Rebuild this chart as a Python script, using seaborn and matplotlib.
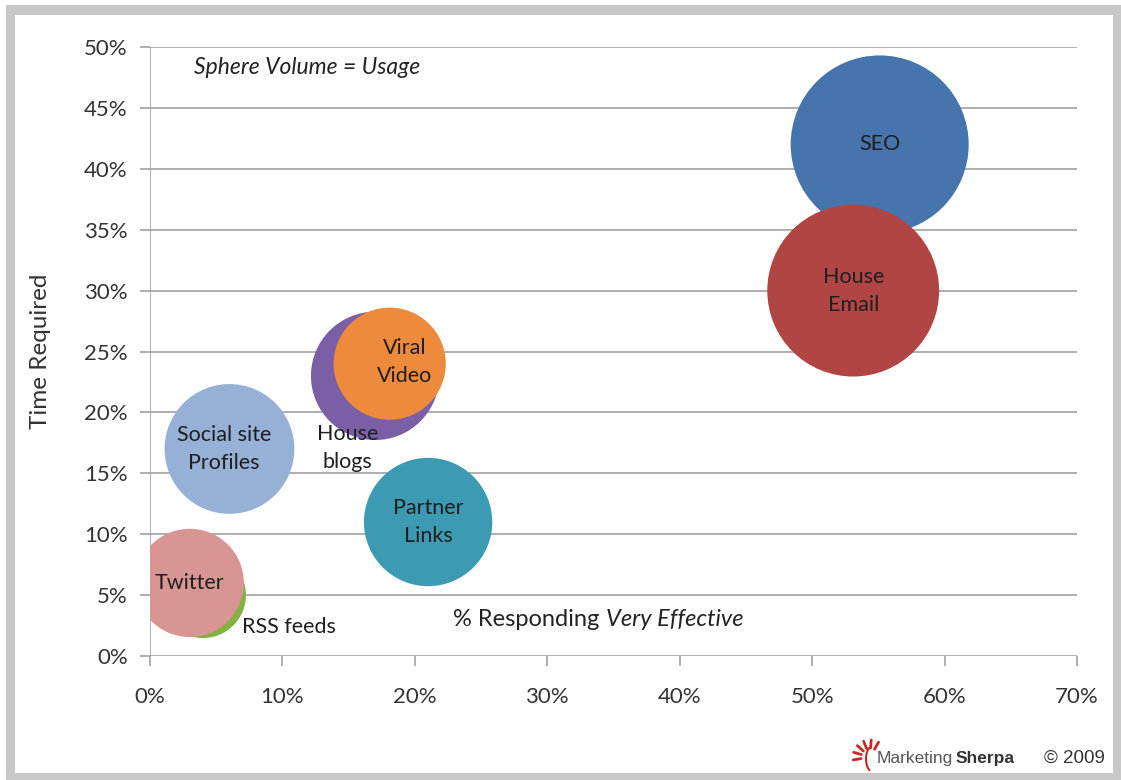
import matplotlib
matplotlib.use("Agg")
import matplotlib.pyplot as plt
import matplotlib.patches as mpatches
import matplotlib.lines as mlines
import seaborn as sns
import pandas as pd
import numpy as np

# ---- data ----
tactics = ["SEO", "House Email", "House blogs", "Viral Video",
           "Social site Profiles", "Partner Links", "RSS feeds", "Twitter"]
labels = ["SEO", "House\nEmail", "House\nblogs", "Viral\nVideo",
          "Social site\nProfiles", "Partner\nLinks", "RSS feeds", "Twitter"]
very_effective = [55.1, 53.1, 17.0, 18.1, 6.0, 21.0, 4.0, 3.0]   # % responding very effective
time_required = [42.0, 30.0, 23.0, 24.0, 17.0, 11.0, 5.0, 6.0]   # % time required
usage = [80, 72, 30, 20, 31, 30, 9, 18]                            # sphere volume = usage
colors = ["#4675ad", "#b04543", "#7a5ea6", "#ed8a3c",
          "#96b0d6", "#3c9bb2", "#83b241", "#d89593"]
x_ticks = [0, 10, 20, 30, 40, 50, 60, 70]
y_ticks = [0, 5, 10, 15, 20, 25, 30, 35, 40, 45, 50]

df = pd.DataFrame({"tactic": tactics, "label": labels, "x": very_effective,
                   "y": time_required, "usage": usage, "color": colors})

W, H, DPI = 1121, 780, 100
sns.set_theme(style="white")
plt.rcParams["font.family"] = ["Lato", "DejaVu Sans"]

fig = plt.figure(figsize=(W / DPI, H / DPI), dpi=DPI)
fig.patch.set_facecolor("white")

# outer grey frame
frame = mpatches.Rectangle((6 / W, 0), (W - 6) / W, (H - 5) / H, transform=fig.transFigure,
                           facecolor="#c8c8c8", edgecolor="none", zorder=-3)
inner = mpatches.Rectangle((15 / W, 7 / H), (1113 - 15) / W, (765 - 7) / H,
                           transform=fig.transFigure, facecolor="white",
                           edgecolor="none", zorder=-2)
fig.patches.extend([frame, inner])

ax = fig.add_axes([150 / W, 1 - 656 / H, (1077 - 150) / W, (656 - 47) / H])
ax.set_facecolor("none")
ax.patch.set_alpha(0)
ax.set_xlim(0, 70)
ax.set_ylim(0, 50)

# bubble radii: volume ∝ usage -> radius ∝ usage^(1/3)
k_px = 89.0 / (80 ** (1 / 3))
radius_px = k_px * np.cbrt(df["usage"].to_numpy(dtype=float))
area_pt2 = (2 * radius_px * 72 / DPI) ** 2

for i, row in df.iterrows():
    sns.scatterplot(x=[row["x"]], y=[row["y"]], s=area_pt2[i], color=row["color"],
                    edgecolor="none", linewidth=0, alpha=1.0, ax=ax,
                    zorder=3 + i, legend=False)
    coll = ax.collections[-1]
    coll.set_clip_on(True)
    coll.set_clip_path(ax.patch)

# grid
for yt in y_ticks:
    ax.axhline(yt, color="#999999", lw=1.1, zorder=1)
ax.axvline(0, color="#999999", lw=1.1, zorder=1)

for s in ax.spines.values():
    s.set_visible(False)

ax.set_xticks(x_ticks)
ax.set_xticklabels([f"{v}%" for v in x_ticks])
ax.set_yticks(y_ticks)
ax.set_yticklabels([f"{v}%" for v in y_ticks])
ax.tick_params(axis="x", length=7, width=1.1, color="#999999", pad=15,
               labelsize=16, labelcolor="#333333", bottom=True)
ax.tick_params(axis="y", length=7, width=1.1, color="#999999", pad=9,
               labelsize=16, labelcolor="#333333", left=True)
ax.set_xlabel("")
ax.set_ylabel("Time Required", fontsize=17.5, color="#333333", labelpad=24)

# bubble labels
label_pos = {
    "SEO": (55.1, 42.0),
    "House Email": (53.1, 30.0),
    "House blogs": (14.9, 17.1),
    "Viral Video": (19.2, 24.1),
    "Social site Profiles": (5.6, 17.0),
    "Partner Links": (21.0, 11.0),
    "RSS feeds": (10.5, 2.4),
    "Twitter": (3.0, 6.0),
}
for _, row in df.iterrows():
    lx, ly = label_pos[row["tactic"]]
    ax.text(lx, ly, row["label"], ha="center", va="center", fontsize=15.5,
            color="#1f1f1f", zorder=20, linespacing=1.5)

ax.text(3.3, 48.3, "Sphere Volume = Usage", style="italic", fontsize=16.5,
        color="#222222", ha="left", va="center", zorder=20)
ax.text(34.4, 3.0, "% Responding ", fontsize=17, color="#222222",
        ha="right", va="center", zorder=20)
ax.text(34.4, 3.0, "Very Effective", fontsize=17, style="italic",
        color="#222222", ha="left", va="center", zorder=20)

# MarketingSherpa logo
cx, cy = 870 / W, 1 - 757 / H
for ang in np.linspace(60, 190, 6):
    a = np.deg2rad(ang)
    r0, r1 = 9, 17
    fig.add_artist(mlines.Line2D([cx + r0 * np.cos(a) / W, cx + r1 * np.cos(a) / W],
                                 [cy + r0 * np.sin(a) / H, cy + r1 * np.sin(a) / H],
                                 transform=fig.transFigure, color="#c62828", lw=2))
fig.add_artist(mpatches.Arc((cx + 3 / W, cy - 2 / H), 14 / W, 26 / H, theta1=100, theta2=260,
                            transform=fig.transFigure, color="#c62828", lw=1.5))
fig.text(877 / W, 1 - 758 / H, "Marketing", fontsize=12.5, color="#555555",
         ha="left", va="center", family=["Liberation Sans", "DejaVu Sans"])
fig.text(956 / W, 1 - 758 / H, "Sherpa", fontsize=12.5, color="#333333", weight="bold",
         ha="left", va="center", family=["Liberation Sans", "DejaVu Sans"])
fig.text(1105 / W, 1 - 758 / H, "\u00a9 2009", fontsize=13.5, color="#333333",
         ha="right", va="center", family=["Liberation Sans", "DejaVu Sans"])

fig.savefig("out.png", dpi=DPI, facecolor="white")
